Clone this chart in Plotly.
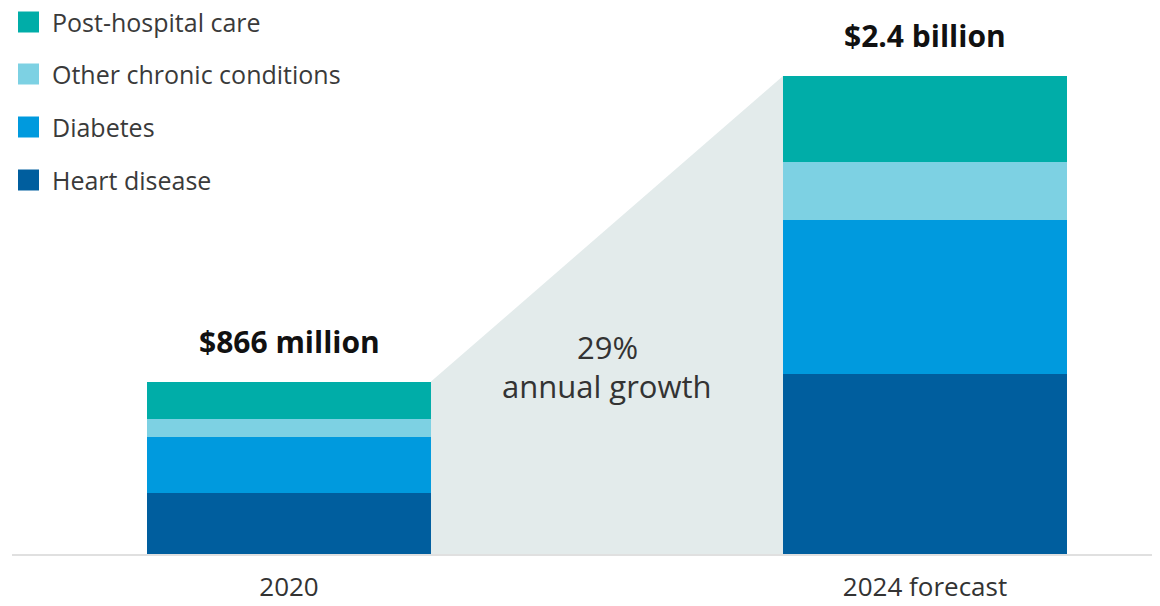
import plotly.graph_objects as go

categories = ["2020", "2024 forecast"]
totals_labels = ["$866 million", "$2.4 billion"]
totals = [866, 2400]
series_names = ["Heart disease", "Diabetes", "Other chronic conditions", "Post-hospital care"]
heart = [308, 904]
diabetes = [278, 773]
other = [90, 293]
post = [190, 430]
colors = ["#005E9E", "#009ADE", "#7DD1E3", "#00ADA8"]
growth_label = ["29%", "annual growth"]

FONT = "Open Sans"
# page body has an 8px margin, so the figure is laid out 8px smaller/shifted
W, H = 1152, 598
ML, MR, MT, MB = 4, 0, 0, 52
bar_w = 0.4465
xpos = [0, 1]

fig = go.Figure()

# shaded growth polygon between bars
fig.add_trace(go.Scatter(
    x=[xpos[0] + bar_w / 2, xpos[1] - bar_w / 2, xpos[1] - bar_w / 2, xpos[0] + bar_w / 2],
    y=[totals[0], totals[1], 0, 0],
    fill="toself", fillcolor="#E3EBEB", mode="none",
    hoverinfo="skip", showlegend=False,
))

for name, vals, col in zip(series_names, [heart, diabetes, other, post], colors):
    fig.add_trace(go.Bar(
        x=xpos, y=vals, name=name, marker=dict(color=col, line=dict(width=0)),
        width=bar_w, showlegend=False,
    ))

# total labels
for xv, tv, lab in zip(xpos, totals, totals_labels):
    fig.add_annotation(x=xv, y=tv, text=f"<b>{lab}</b>", showarrow=False,
                       yanchor="bottom", yshift=18,
                       font=dict(family=FONT, size=30, color="#111111"))

# growth text
fig.add_annotation(x=0.5, y=1040, text=growth_label[0], showarrow=False,
                   font=dict(family=FONT, size=31, color="#333333"))
fig.add_annotation(x=0.5, y=846, text=growth_label[1], showarrow=False,
                   font=dict(family=FONT, size=31, color="#333333"))

# manual legend
plot_w = W - ML - MR
plot_h = H - MT - MB
def px_x(p):
    return (p - ML) / plot_w
def px_y(p):
    return (H - MB - p) / plot_h

legend_order = list(reversed(list(zip(series_names, colors))))
row_centers = [14, 66, 119, 172]
for (name, col), cy in zip(legend_order, row_centers):
    fig.add_shape(type="rect", xref="paper", yref="paper",
                  x0=px_x(10), x1=px_x(31), y0=px_y(cy + 10.5), y1=px_y(cy - 10.5),
                  fillcolor=col, line=dict(width=0), layer="above")
    fig.add_annotation(xref="paper", yref="paper", x=px_x(42), y=px_y(cy),
                       text=name, showarrow=False, xanchor="left", yanchor="middle",
                       font=dict(family=FONT, size=25, color="#3a3a3a"))

ymax = plot_h / (478 / 2400)
fig.update_layout(
    width=W, height=H,
    margin=dict(l=ML, r=MR, t=MT, b=MB),
    barmode="stack",
    plot_bgcolor="white", paper_bgcolor="white",
    showlegend=False,
    xaxis=dict(range=[-277 / 636, 1 + 235 / 636], tickvals=xpos, ticktext=categories,
               showgrid=False, zeroline=False, showline=True, linecolor="#E0E0E0",
               linewidth=2, ticks="", ticklabelstandoff=9, automargin=False,
               tickfont=dict(family=FONT, size=26, color="#333333"), fixedrange=True),
    yaxis=dict(range=[0, ymax], visible=False, showgrid=False, zeroline=False,
               fixedrange=True, automargin=False),
)

fig.write_html("out.html")
